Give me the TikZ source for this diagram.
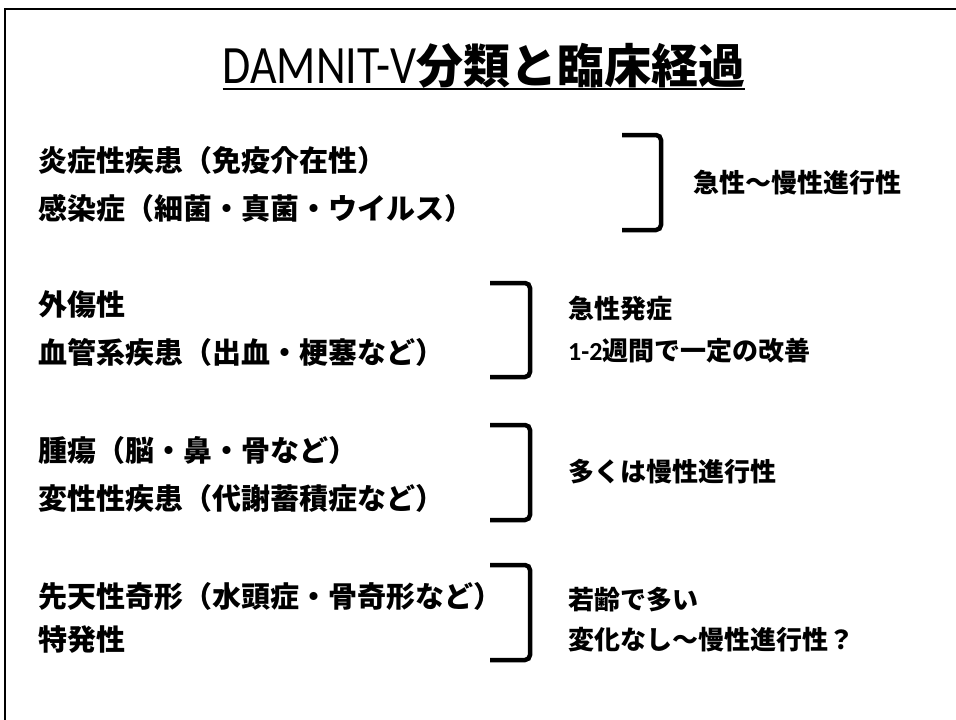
\documentclass[tikz,border=0pt]{standalone}
\usepackage{fontspec}
\setmainfont{Carlito}
\newfontfamily\jp{Noto Sans CJK JP}
\newcommand\latn[1]{{\normalfont\bfseries #1}}

\begin{document}
\begin{tikzpicture}[x=1pt,y=-1pt,
    item/.style={anchor=west,inner sep=0pt,font=\jp\bfseries\fontsize{29}{34}\selectfont},
    note/.style={anchor=west,inner sep=0pt,font=\jp\bfseries\fontsize{26}{30}\selectfont},
    brace/.style={line width=4.5pt,rounded corners=5pt}]
    \useasboundingbox[fill=white] (0,0) rectangle (956,720);
    \draw[line width=2pt] (5,720) -- (5,9) -- (956,9);
    % title
    \node[anchor=base,inner sep=0pt] (title) at (484,83)
        {{\fontsize{54}{60}\selectfont\addfontfeature{FakeStretch=0.85}DAMNIT-V}%
         {\jp\bfseries\fontsize{47}{55}\selectfont 分類と臨床経過}};
    \draw[line width=2pt] ([yshift=-6pt]title.base west) -- ([yshift=-6pt]title.base east);
    % groups
    \node[item] (imm) at (38,160) {炎症性疾患（免疫介在性）};
    \node[item] (inf) at (38,208) {感染症（細菌・真菌・ウイルス）};
    \draw[brace] (622,135) -- (661,135) -- (661,230) -- (622,230);
    \node[note] (immnote) at (693,183) {急性～慢性進行性};

    \node[item] (trau) at (38,305) {外傷性};
    \node[item] (vasc) at (38,352) {血管系疾患（出血・梗塞など）};
    \draw[brace] (490,283) -- (530,283) -- (530,377) -- (490,377);
    \node[note] (trauA) at (568,309) {急性発症};
    \node[note] (trauB) at (568,351) {\latn{1-2}週間で一定の改善};

    \node[item] (neo) at (38,450) {腫瘍（脳・鼻・骨など）};
    \node[item] (deg) at (38,498) {変性性疾患（代謝蓄積症など）};
    \draw[brace] (490,425) -- (530,425) -- (530,520) -- (490,520);
    \node[note] (neonote) at (568,472) {多くは慢性進行性};

    \node[item] (anom) at (38,596) {先天性奇形（水頭症・骨奇形など）};
    \node[item] (idio) at (38,640) {特発性};
    \draw[brace] (490,565) -- (530,565) -- (530,660) -- (490,660);
    \node[note] (anomA) at (568,600) {若齢で多い};
    \node[note] (anomB) at (568,640) {変化なし～慢性進行性？};
\end{tikzpicture}
\end{document}
